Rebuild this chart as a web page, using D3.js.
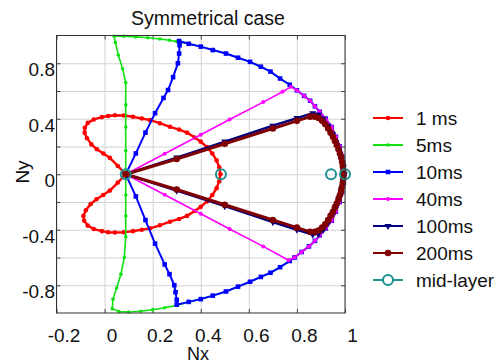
<!DOCTYPE html>
<html>
<head>
<meta charset="utf-8">
<title>Symmetrical case</title>
<script src="https://cdnjs.cloudflare.com/ajax/libs/d3/7.8.5/d3.min.js"></script>
<style>
  body { margin: 0; background: #fff; }
  svg text { font-family: "Liberation Sans", Arial, sans-serif; fill: #111; }
  .grid line { stroke: #d2d2d2; stroke-width: 1; }
  .grid path { display: none; }
  .serie { fill: none; stroke-linejoin: round; stroke-linecap: round; }
</style>
</head>
<body>
<div id="chart"></div>
<script>
// --- data -----------------------------------------------------------------
var xTicks = [-0.2, 0, 0.2, 0.4, 0.6, 0.8, 1];
var xLabels = ["-0.2", "0", "0.2", "0.4", "0.6", "0.8", "1"];
var yGrid = [-0.8, -0.6, -0.4, -0.2, 0, 0.2, 0.4, 0.6, 0.8];
var yTicks = [-0.8, -0.4, 0, 0.4, 0.8];
var yLabels = ["-0.8", "-0.4", "0", "0.4", "0.8"];

var names = ["1 ms", "5ms", "10ms", "40ms", "100ms", "200ms", "mid-layer"];
var colours = ["#ff0000", "#11e011", "#0000ff", "#ff00ff", "#000080", "#800000", "#1d9090"];

var nx1ms = [0.088, 0.055, 0.022, -0.005, -0.032, -0.055, -0.073, -0.083, -0.082, -0.07, -0.045, -0.011, 0.015, 0.043, 0.08, 0.118, 0.155, 0.189, 0.23, 0.272, 0.31, 0.343, 0.375, 0.4, 0.426, 0.448, 0.466, 0.477, 0.482,
             0.477, 0.466, 0.448, 0.426, 0.4, 0.375, 0.343, 0.31, 0.272, 0.23, 0.189, 0.155, 0.118, 0.08, 0.043, 0.015, -0.011, -0.045, -0.07, -0.085, -0.088, -0.078, -0.058, -0.034, -0.006, 0.022, 0.055, 0.088];
var ny1ms = [0, 0.06, 0.118, 0.15, 0.18, 0.215, 0.26, 0.3, 0.335, 0.37, 0.395, 0.412, 0.42, 0.425, 0.423, 0.414, 0.402, 0.39, 0.368, 0.342, 0.322, 0.3, 0.265, 0.235, 0.196, 0.15, 0.1, 0.05, 0,
             -0.05, -0.1, -0.15, -0.196, -0.235, -0.265, -0.3, -0.322, -0.342, -0.368, -0.39, -0.4, -0.41, -0.418, -0.42, -0.418, -0.41, -0.395, -0.37, -0.335, -0.3, -0.26, -0.215, -0.18, -0.15, -0.118, -0.06, 0];

var nx5ms = [0.088, 0.088, 0.088, 0.088, 0.088, 0.075, 0.057, 0.045, 0.04, 0.08, 0.13, 0.18, 0.23, 0.27, 0.3,
             0.35, 0.4, 0.45, 0.505, 0.555, 0.605, 0.65, 0.69, 0.73, 0.77, 0.8, 0.83, 0.855, 0.875, 0.895, 0.92, 0.945, 0.962, 0.978, 0.988, 0.995, 0.998,
             0.995, 0.988, 0.978, 0.962, 0.945, 0.92, 0.895, 0.875, 0.85, 0.82, 0.79, 0.77, 0.73, 0.69, 0.65, 0.605, 0.555, 0.505, 0.45, 0.4, 0.35, 0.3,
             0.25, 0.2, 0.15, 0.1, 0.06, 0.032, 0.035, 0.05, 0.068, 0.082, 0.088, 0.088, 0.088, 0.088];
var ny5ms = [0, 0.17, 0.34, 0.5, 0.66, 0.76, 0.86, 0.95, 0.995, 0.995, 0.99, 0.984, 0.975, 0.966, 0.956,
             0.94, 0.92, 0.895, 0.87, 0.84, 0.81, 0.775, 0.74, 0.69, 0.645, 0.605, 0.565, 0.53, 0.49, 0.45, 0.4, 0.34, 0.27, 0.2, 0.13, 0.065, 0,
             -0.065, -0.13, -0.2, -0.27, -0.335, -0.39, -0.44, -0.48, -0.52, -0.56, -0.6, -0.625, -0.67, -0.71, -0.74, -0.775, -0.81, -0.845, -0.875, -0.9, -0.92, -0.945,
             -0.962, -0.976, -0.987, -0.993, -0.99, -0.97, -0.9, -0.82, -0.72, -0.6, -0.45, -0.3, -0.15, 0];

var nx10ms = [0.088, 0.13, 0.17, 0.21, 0.245, 0.264, 0.285, 0.305, 0.31, 0.312, 0.31,
              0.35, 0.4, 0.45, 0.505, 0.555, 0.605, 0.65, 0.69, 0.73, 0.77, 0.8, 0.83, 0.855, 0.875, 0.895, 0.92, 0.945, 0.962, 0.978, 0.988, 0.995, 0.998,
              0.995, 0.988, 0.978, 0.962, 0.945, 0.92, 0.895, 0.875, 0.85, 0.82, 0.79, 0.77, 0.73, 0.69, 0.65, 0.605, 0.555, 0.505, 0.45, 0.4, 0.35, 0.3,
              0.3, 0.295, 0.29, 0.27, 0.25, 0.21, 0.17, 0.13, 0.088];
var ny10ms = [0, 0.15, 0.3, 0.44, 0.55, 0.607, 0.7, 0.8, 0.87, 0.93, 0.96,
              0.94, 0.92, 0.895, 0.87, 0.84, 0.81, 0.775, 0.74, 0.69, 0.645, 0.605, 0.565, 0.53, 0.49, 0.45, 0.4, 0.34, 0.27, 0.2, 0.13, 0.065, 0,
              -0.065, -0.13, -0.2, -0.27, -0.335, -0.39, -0.44, -0.48, -0.52, -0.56, -0.6, -0.625, -0.67, -0.71, -0.74, -0.775, -0.81, -0.845, -0.875, -0.9, -0.92, -0.94,
              -0.905, -0.85, -0.8, -0.72, -0.65, -0.5, -0.33, -0.16, 0];

var nx40ms = [0.088, 0.25, 0.4, 0.52, 0.66, 0.74, 0.775, 0.8, 0.83, 0.855, 0.875, 0.895, 0.92, 0.945, 0.962, 0.978, 0.988, 0.995, 0.998,
              0.995, 0.988, 0.978, 0.962, 0.945, 0.92, 0.895, 0.875, 0.85, 0.82, 0.79, 0.765, 0.66, 0.52, 0.4, 0.25, 0.088];
var ny40ms = [0, 0.148, 0.285, 0.395, 0.52, 0.595, 0.63, 0.605, 0.565, 0.53, 0.49, 0.45, 0.4, 0.34, 0.27, 0.2, 0.13, 0.065, 0,
              -0.065, -0.13, -0.2, -0.27, -0.335, -0.39, -0.44, -0.48, -0.52, -0.56, -0.6, -0.62, -0.52, -0.395, -0.285, -0.148, 0];

var nx100ms = [0.088, 0.3, 0.5, 0.7, 0.8, 0.866, 0.89, 0.91, 0.93, 0.948, 0.962, 0.975, 0.985, 0.993, 0.997,
               0.993, 0.985, 0.975, 0.962, 0.948, 0.93, 0.91, 0.89, 0.866, 0.8, 0.7, 0.5, 0.3, 0.088];
var ny100ms = [0, 0.12, 0.235, 0.35, 0.405, 0.44, 0.43, 0.4, 0.35, 0.29, 0.23, 0.17, 0.11, 0.05, 0,
               -0.05, -0.11, -0.17, -0.23, -0.29, -0.35, -0.4, -0.43, -0.435, -0.4, -0.345, -0.23, -0.118, 0];

var nx200ms = [0.088, 0.3, 0.5, 0.7, 0.8, 0.855, 0.875, 0.89, 0.905, 0.918, 0.93, 0.94, 0.95, 0.958, 0.966, 0.973, 0.979, 0.984, 0.988, 0.991, 0.993, 0.994,
               0.993, 0.991, 0.988, 0.984, 0.979, 0.973, 0.966, 0.958, 0.95, 0.94, 0.93, 0.918, 0.905, 0.89, 0.875, 0.855, 0.8, 0.7, 0.5, 0.3, 0.088];
var ny200ms = [0, 0.11, 0.22, 0.33, 0.385, 0.415, 0.415, 0.405, 0.385, 0.36, 0.33, 0.3, 0.27, 0.24, 0.21, 0.18, 0.15, 0.12, 0.09, 0.06, 0.03, 0,
               -0.03, -0.06, -0.09, -0.12, -0.15, -0.18, -0.21, -0.24, -0.27, -0.3, -0.33, -0.36, -0.385, -0.405, -0.415, -0.415, -0.385, -0.33, -0.22, -0.11, 0];

var nxMid = [0.088, 0.484, 0.942, 1.0];
var nyMid = [0, 0, 0, 0];

// --- layout ---------------------------------------------------------------
var breite = 502, hoehe = 363;
var links = 56.5, rechts = 345, oben = 35.5, unten = 313;

var x = d3.scaleLinear().domain([-0.2, 1]).range([links, rechts]);
var y = d3.scaleLinear().domain([-1, 1]).range([unten, oben]);

var svg = d3.select("#chart").append("svg")
  .attr("width", breite).attr("height", hoehe);

svg.append("rect")
  .attr("x", links).attr("y", oben)
  .attr("width", rechts - links).attr("height", unten - oben)
  .attr("fill", "#fff");

// grid
svg.append("g").attr("class", "grid")
  .attr("transform", "translate(0," + unten + ")")
  .call(d3.axisBottom(x).tickValues(xTicks).tickSize(-(unten - oben)).tickFormat(""));
svg.append("g").attr("class", "grid")
  .attr("transform", "translate(" + links + ",0)")
  .call(d3.axisLeft(y).tickValues(yGrid).tickSize(-(rechts - links)).tickFormat(""));

// inward ticks on all four sides
function tickMarks(g) { g.select(".domain").remove(); g.selectAll("line").attr("stroke", "#444"); }
svg.append("g").attr("transform", "translate(0," + unten + ")")
  .call(d3.axisBottom(x).tickValues(xTicks).tickSize(-4).tickFormat("")).call(tickMarks);
svg.append("g").attr("transform", "translate(0," + oben + ")")
  .call(d3.axisTop(x).tickValues(xTicks).tickSize(-4).tickFormat("")).call(tickMarks);
svg.append("g").attr("transform", "translate(" + links + ",0)")
  .call(d3.axisLeft(y).tickValues(yGrid).tickSize(-4).tickFormat("")).call(tickMarks);
svg.append("g").attr("transform", "translate(" + rechts + ",0)")
  .call(d3.axisRight(y).tickValues(yGrid).tickSize(-4).tickFormat("")).call(tickMarks);

// tick labels
var xAchse = svg.append("g").attr("transform", "translate(0," + unten + ")")
  .call(d3.axisBottom(x).tickValues(xTicks).tickSize(0)
    .tickFormat(function (d, i) { return xLabels[i]; }));
xAchse.select(".domain").remove();
xAchse.selectAll("text").attr("font-size", 19).attr("dy", null).attr("y", 28.5).attr("dx", 7);

var yAchse = svg.append("g").attr("transform", "translate(" + links + ",0)")
  .call(d3.axisLeft(y).tickValues(yTicks).tickSize(0)
    .tickFormat(function (d, i) { return yLabels[i]; }));
yAchse.select(".domain").remove();
yAchse.selectAll("text").attr("font-size", 19).attr("x", -1.5).attr("dy", 12.5);
yAchse.selectAll("text").attr("font-family", null);
xAchse.selectAll("text").attr("font-family", null);

// series
var serien = [
  { xs: nx1ms, ys: ny1ms, breite: 2.4, r: 2.3, form: d3.symbolCircle },
  { xs: nx5ms, ys: ny5ms, breite: 1.6, r: 1.8, form: d3.symbolCircle },
  { xs: nx10ms, ys: ny10ms, breite: 2, r: 2.6, form: d3.symbolSquare },
  { xs: nx40ms, ys: ny40ms, breite: 1.6, r: 2, form: d3.symbolCircle },
  { xs: nx100ms, ys: ny100ms, breite: 2.4, r: 2.6, form: d3.symbolTriangle },
  { xs: nx200ms, ys: ny200ms, breite: 3, r: 3.3, form: d3.symbolCircle }
];

var linie = d3.line()
  .x(function (d) { return x(d[0]); })
  .y(function (d) { return y(d[1]); });

serien.forEach(function (s, i) {
  var punkte = s.xs.map(function (v, k) { return [v, s.ys[k]]; });
  svg.append("path").datum(punkte)
    .attr("class", "serie")
    .attr("stroke", colours[i])
    .attr("stroke-width", s.breite)
    .attr("d", linie);
  svg.selectAll(".m" + i).data(punkte).enter().append("path")
    .attr("class", "m" + i)
    .attr("fill", colours[i])
    .attr("transform", function (d) {
      return "translate(" + x(d[0]) + "," + y(d[1]) + ")" + (s.form === d3.symbolTriangle ? " rotate(180)" : "");
    })
    .attr("d", d3.symbol().type(s.form).size(Math.PI * s.r * s.r));
});

// mid-layer rings
svg.selectAll(".mid").data(nxMid).enter().append("circle")
  .attr("class", "mid")
  .attr("cx", function (d) { return x(d); })
  .attr("cy", function (d, i) { return y(nyMid[i]); })
  .attr("r", 5)
  .attr("fill", "none")
  .attr("stroke", colours[6])
  .attr("stroke-width", 2);

// box
svg.append("rect")
  .attr("x", links).attr("y", oben)
  .attr("width", rechts - links).attr("height", unten - oben)
  .attr("fill", "none").attr("stroke", "#333").attr("stroke-width", 1);

// titles
svg.append("text").attr("x", 208).attr("y", 25).attr("text-anchor", "middle")
  .attr("font-size", 19.5).text("Symmetrical case");
svg.append("text").attr("x", 198).attr("y", 360).attr("text-anchor", "middle")
  .attr("font-size", 18).text("Nx");
svg.append("text").attr("transform", "translate(29,172) rotate(-90)")
  .attr("text-anchor", "middle").attr("font-size", 19).text("Ny");

// legend
var legende = svg.append("g");
names.forEach(function (n, i) {
  var ly = 118 + i * 27;
  legende.append("line")
    .attr("x1", 373).attr("x2", 403).attr("y1", ly).attr("y2", ly)
    .attr("stroke", colours[i]).attr("stroke-width", 2);
  if (i < 6) {
    var s = serien[i];
    legende.append("path")
      .attr("fill", colours[i])
      .attr("transform", "translate(388," + ly + ")" + (s.form === d3.symbolTriangle ? " rotate(180)" : ""))
      .attr("d", d3.symbol().type(s.form).size(Math.PI * s.r * s.r));
  } else {
    legende.append("circle").attr("cx", 388).attr("cy", ly).attr("r", 5)
      .attr("fill", "#fff").attr("stroke", colours[i]).attr("stroke-width", 2);
  }
  legende.append("text").attr("x", 416).attr("y", ly + 6.5)
    .attr("font-size", 19).text(n);
});
</script>
</body>
</html>
